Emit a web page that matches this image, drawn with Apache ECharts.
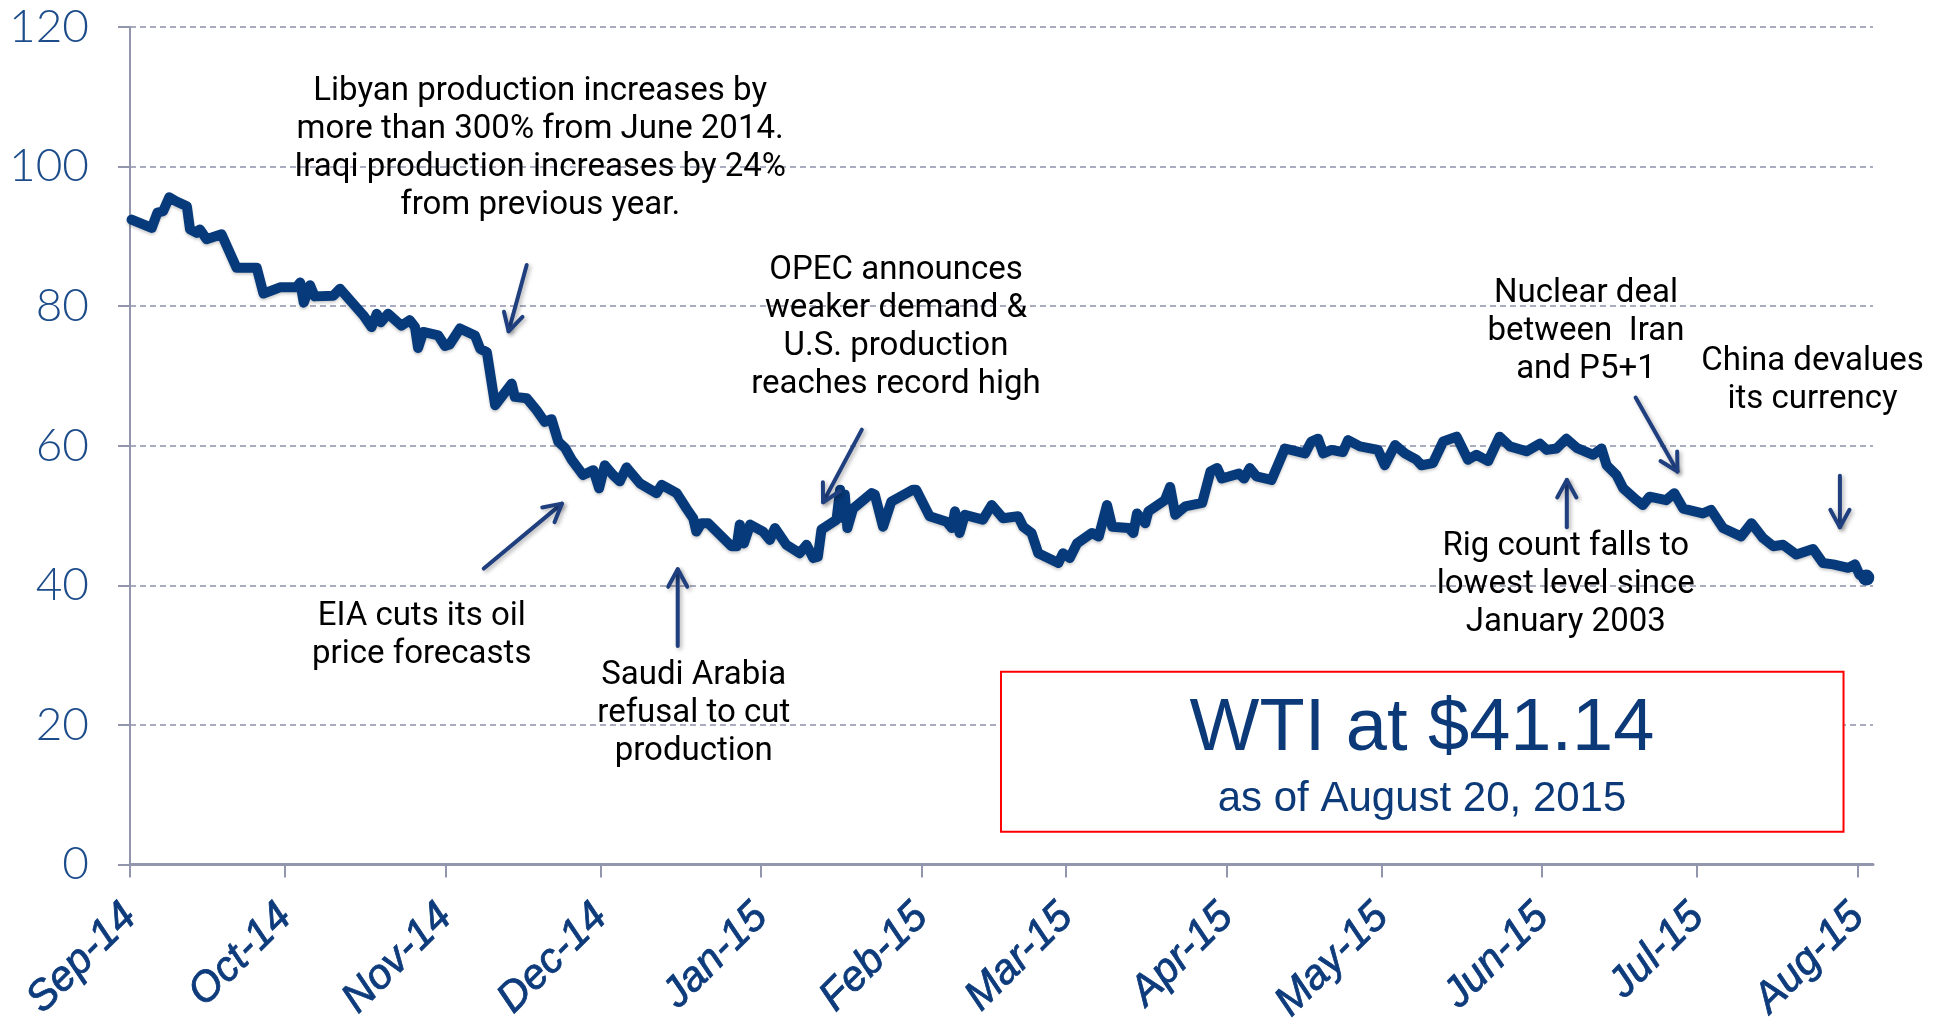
<!DOCTYPE html>
<html>
<head>
<meta charset="utf-8">
<title>WTI crude oil price</title>
<script src="https://cdn.jsdelivr.net/npm/echarts@6/dist/echarts.min.js"></script>
<style>
  html, body { margin: 0; padding: 0; background: #fff; }
  #main { width: 1946px; height: 1027px; }
</style>
</head>
<body>
<div id="main"></div>
<script>
// x = days since 1 Sep 2014, y = WTI price ($/bbl)
var days = [
  0.3, 4.2, 5.3, 6.4, 7.6, 9.0, 11.0, 11.6, 12.9, 13.5, 14.8, 17.7, 20.6, 24.5, 25.8, 29.0,
  32.2, 32.9, 33.6, 34.8, 35.7, 39.3, 40.6, 45.1, 46.7, 47.7, 48.5, 49.9, 52.5, 54.1, 55.1, 55.7,
  56.7, 59.6, 60.9, 61.8, 63.8, 66.7, 67.7, 69.0, 70.6, 73.8, 74.4, 76.7, 78.6, 80.2, 81.5, 82.8,
  84.1, 85.4, 87.6, 89.6, 90.7, 91.8, 93.4, 94.7, 96.0, 98.6, 101.8, 102.8, 105.7, 107.6, 108.9, 109.5,
  110.5, 111.8, 114.1, 116.3, 117.3, 117.9, 118.7, 119.9, 122.4, 123.7, 124.7, 126.9, 129.5, 130.8, 132.1, 133.0,
  133.7, 136.6, 137.3, 137.9, 138.2, 138.7, 139.8, 143.4, 144.0, 145.6, 147.2, 151.4, 152.0, 154.6, 157.9, 158.9,
  159.5, 160.4, 161.4, 164.9, 166.6, 168.8, 171.7, 172.7, 174.3, 175.6, 179.5, 180.4, 181.7, 183.1, 186.0, 187.3,
  188.9, 189.9, 193.1, 194.0, 194.7, 196.3, 196.9, 200.1, 201.1, 202.1, 204.0, 207.3, 208.9, 210.2, 211.1, 214.4,
  215.4, 216.5, 217.8, 220.7, 223.3, 227.2, 228.4, 229.7, 230.7, 232.3, 234.5, 235.5, 237.8, 241.3, 242.6, 244.6,
  246.5, 248.7, 249.7, 251.9, 253.9, 256.5, 258.7, 260.3, 262.6, 264.8, 266.8, 270.0, 272.6, 273.9, 275.8, 277.7,
  279.7, 282.9, 284.5, 285.5, 287.4, 288.7, 291.3, 292.5, 293.8, 297.0, 298.6, 300.3, 304.1, 305.7, 308.0, 311.5,
  313.5, 315.7, 317.7, 319.6, 322.2, 325.4, 327.3, 329.3, 332.2, 333.5, 334.4, 335.7
]
var prices = [
  92.4, 91.2, 93.4, 93.6, 95.6, 95.0, 94.3, 91.0, 90.5, 91.0, 89.6, 90.3, 85.5, 85.5, 81.8, 82.7,
  82.7, 83.4, 80.5, 83.0, 81.4, 81.5, 82.5, 78.7, 77.0, 78.9, 77.7, 78.9, 77.2, 78.0, 77.0, 74.0,
  76.3, 75.8, 74.3, 74.5, 76.8, 75.8, 73.9, 73.4, 65.8, 68.9, 67.0, 66.8, 65.1, 63.4, 63.8, 60.6,
  59.7, 58.0, 55.8, 56.5, 53.9, 57.2, 55.8, 54.9, 56.9, 54.6, 53.2, 54.4, 53.2, 51.0, 49.6, 47.7,
  48.9, 48.9, 47.2, 45.6, 45.6, 48.7, 46.0, 48.7, 47.7, 46.5, 48.2, 45.8, 44.6, 45.8, 43.9, 44.1,
  48.0, 49.4, 53.7, 49.6, 53.0, 48.2, 51.0, 53.2, 53.0, 48.4, 52.0, 53.7, 53.7, 49.9, 49.1, 48.2,
  50.6, 47.5, 50.1, 49.4, 51.5, 49.6, 49.9, 48.4, 47.5, 44.6, 43.2, 44.6, 43.9, 46.0, 47.5, 47.0,
  51.5, 48.4, 48.2, 47.5, 50.3, 48.9, 50.6, 52.2, 54.1, 50.1, 51.3, 51.8, 56.3, 56.8, 55.3, 56.0,
  55.3, 56.8, 55.6, 55.1, 59.6, 58.9, 60.6, 61.0, 58.9, 59.4, 59.1, 60.8, 59.9, 59.4, 57.2, 60.1,
  58.9, 58.0, 57.2, 57.5, 60.6, 61.3, 58.0, 58.7, 57.8, 61.3, 59.9, 59.2, 60.3, 59.4, 59.6, 61.0,
  59.7, 58.7, 59.6, 57.2, 55.8, 53.9, 52.2, 51.5, 52.7, 52.2, 53.2, 51.0, 50.3, 50.8, 48.2, 47.0,
  48.9, 46.8, 45.6, 45.8, 44.4, 45.2, 43.2, 43.0, 42.5, 43.0, 41.5, 41.1
]
var monthDays = [0, 30, 61, 91, 122, 153, 181, 212, 242, 273, 303, 334]
var monthLabels = ['Sep-14', 'Oct-14', 'Nov-14', 'Dec-14', 'Jan-15', 'Feb-15', 'Mar-15', 'Apr-15', 'May-15', 'Jun-15', 'Jul-15', 'Aug-15']

// callouts, placed in data coordinates [day, price]
var notes = [
  { text: 'Libyan production increases by\nmore than 300% from June 2014.\nIraqi production increases by 24%\nfrom previous year.', at: [79.3, 102.6] },
  { text: 'OPEC announces\nweaker demand &\nU.S. production\nreaches record high', at: [148.1, 76.9] },
  { text: 'Nuclear deal\nbetween  Iran\nand P5+1', at: [281.5, 76.4] },
  { text: 'China devalues\nits currency', at: [325.3, 69.3] },
  { text: 'EIA cuts its oil\nprice forecasts', at: [56.4, 32.8] },
  { text: 'Saudi Arabia\nrefusal to cut\nproduction', at: [109, 21.6] },
  { text: 'Rig count falls to\nlowest level since\nJanuary 2003', at: [277.6, 40.1] }
]
var arrows = [
  [[76.7, 85.9], [73.2, 76.4]],
  [[68.4, 42.4], [83.5, 51.7]],
  [[105.9, 31.3], [105.9, 42.3]],
  [[141.5, 62.3], [134.0, 51.9]],
  [[277.8, 48.3], [277.8, 55.1]],
  [[291.1, 66.9], [299.2, 56.3]],
  [[330.6, 55.7], [330.6, 48.3]]
]

var lineColor = '#073a7a'
var axisColor = '#9196ad'

var myChart = echarts.init(document.getElementById('main'))

var seriesData = days.map(function (d, i) { return [d, prices[i]] })
var last = seriesData[seriesData.length - 1]

var option = {
  animation: false,
  grid: { left: 130, right: 73, top: 27, bottom: 159 },
  xAxis: {
    type: 'value',
    min: 0,
    max: 337,
    axisLine: { lineStyle: { color: axisColor, width: 3 } },
    axisTick: { show: true, customValues: monthDays, length: 13, lineStyle: { color: axisColor, width: 2 } },
    axisLabel: {
      customValues: monthDays,
      formatter: function (v) { return monthLabels[monthDays.indexOf(v)] },
      rotate: 45,
      margin: 46,
      fontSize: 42,
      fontStyle: 'italic',
      fontFamily: 'Liberation Sans, Arial, sans-serif',
      color: '#0d3b7b',
      textBorderColor: '#0d3b7b',
      textBorderWidth: 0.8
    },
    splitLine: { show: false }
  },
  yAxis: {
    type: 'value',
    min: 0,
    max: 120,
    interval: 20,
    axisLine: { show: true, lineStyle: { color: axisColor, width: 2 } },
    axisTick: { show: true, length: 12, lineStyle: { color: axisColor, width: 2 } },
    axisLabel: { fontSize: 46, fontFamily: 'Lato', fontWeight: 300, color: '#1d4c8a', margin: 41 },
    splitLine: { lineStyle: { type: [6, 4], color: '#8d91a9', width: 1.5 } }
  },
  series: [
    {
      type: 'line',
      data: seriesData,
      showSymbol: false,
      lineStyle: {
        color: lineColor,
        width: 10,
        join: 'round',
        cap: 'round',
        shadowColor: 'rgba(0,0,0,0.2)',
        shadowBlur: 3,
        shadowOffsetY: 2
      },
      markPoint: {
        symbol: 'circle',
        symbolSize: 16,
        itemStyle: { color: lineColor },
        label: { show: false },
        data: [{ coord: last }]
      }
    }
  ]
}
myChart.setOption(option)

function toPx(p) {
  return myChart.convertToPixel({ gridIndex: 0 }, p)
}

function drawNotes() {
  var g = []
  var arrowStyle = {
    stroke: '#1f3f7f',
    lineWidth: 4,
    lineCap: 'round',
    lineJoin: 'round',
    fill: null,
    shadowColor: 'rgba(0,0,0,0.3)',
    shadowBlur: 4,
    shadowOffsetX: 2,
    shadowOffsetY: 2
  }
  notes.forEach(function (n) {
    var p = toPx(n.at)
    g.push({
      type: 'text',
      x: p[0],
      y: p[1],
      z: 10,
      style: {
        text: n.text,
        fill: '#000',
        fontSize: 33,
        fontFamily: 'Roboto',
        align: 'center',
        verticalAlign: 'middle',
        lineHeight: 38
      }
    })
  })
  arrows.forEach(function (a) {
    var p0 = toPx(a[0])
    var p1 = toPx(a[1])
    var ang = Math.atan2(p1[1] - p0[1], p1[0] - p0[0])
    var len = 20
    var h1 = [p1[0] - len * Math.cos(ang - 0.5), p1[1] - len * Math.sin(ang - 0.5)]
    var h2 = [p1[0] - len * Math.cos(ang + 0.5), p1[1] - len * Math.sin(ang + 0.5)]
    g.push({ type: 'polyline', z: 10, shape: { points: [p0, p1] }, style: arrowStyle })
    g.push({ type: 'polyline', z: 10, shape: { points: [h1, p1, h2] }, style: arrowStyle })
  })

  // price box
  var b0 = toPx([168.4, 27.6])
  var b1 = toPx([331.3, 4.7])
  g.push({
    type: 'rect',
    z: 10,
    shape: { x: b0[0], y: b0[1], width: b1[0] - b0[0], height: b1[1] - b0[1] },
    style: { fill: '#fff', stroke: '#ff0000', lineWidth: 2 }
  })
  var t1 = toPx([249.8, 19.3])
  var t2 = toPx([249.8, 9.3])
  g.push({
    type: 'text', x: t1[0], y: t1[1], z: 11,
    style: { text: 'WTI at $41.14', fill: '#0c3a78', fontSize: 74, fontFamily: 'Liberation Sans, Arial, sans-serif', align: 'center', verticalAlign: 'middle' }
  })
  g.push({
    type: 'text', x: t2[0], y: t2[1], z: 11,
    style: { text: 'as of August 20, 2015', fill: '#0c3a78', fontSize: 42, fontFamily: 'Liberation Sans, Arial, sans-serif', align: 'center', verticalAlign: 'middle' }
  })
  myChart.setOption({ graphic: g })
}
drawNotes()
</script>
</body>
</html>
